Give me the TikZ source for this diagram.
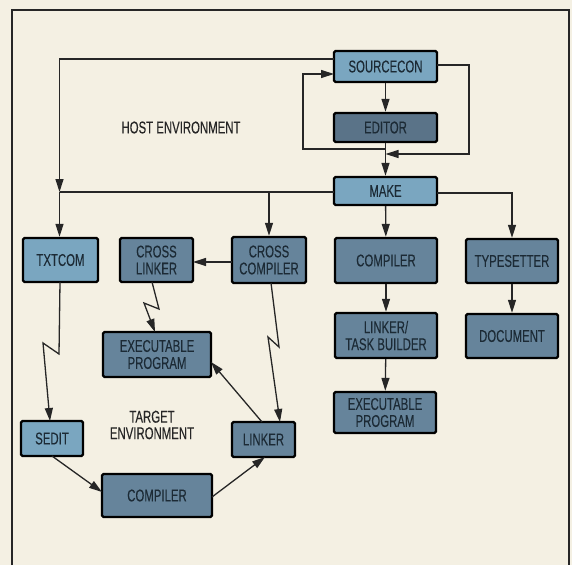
\documentclass[tikz,border=0pt]{standalone}
\usepackage{fontspec}
\newfontfamily\condf[FakeStretch=0.67,FakeBold=0.15]{Liberation Sans}
\usetikzlibrary{arrows.meta}
\definecolor{paper}{HTML}{F4F0E3}
\definecolor{lightb}{HTML}{7AA6C0}
\definecolor{darkb}{HTML}{66849B}
\definecolor{darkerb}{HTML}{5A7388}
\definecolor{inkc}{HTML}{1C2A35}
\definecolor{linec}{HTML}{262626}
\tikzset{
  bx/.style={draw=black, line width=2.4pt, rounded corners=1.5pt, inner sep=0pt,
    font=\condf\fontsize{17}{17}\selectfont, text=inkc, align=center},
  lightbox/.style={bx, fill=lightb},
  darkbox/.style={bx, fill=darkb},
  darkerbox/.style={bx, fill=darkerb},
  conn/.style={draw=linec, line width=1.3pt},
  arr/.style={conn, -{Triangle[length=13pt,width=8pt]}},
  lbl/.style={font=\condf\fontsize{17}{16.5}\selectfont, text=linec, align=center, inner sep=0pt}
}
\begin{document}
\begin{tikzpicture}[x=1pt,y=-1pt]
\useasboundingbox (0,0) rectangle (572,565);
\fill[paper] (0,0) rectangle (572,565);
\draw[draw=linec, line width=2pt] (12,565) -- (12,10) -- (569,10) -- (569,565);

% host nodes
\node[lightbox, minimum width=103pt, minimum height=31pt] (src) at (385.5,66.5) {SOURCECON};
\node[darkerbox, minimum width=103pt, minimum height=29pt] (edt) at (385.5,127.5) {EDITOR};
\node[lightbox, minimum width=103pt, minimum height=28pt] (mk) at (385.5,191) {MAKE};
\node[lightbox, minimum width=75pt, minimum height=44pt] (txt) at (60.5,260) {TXTCOM};
\node[darkbox, minimum width=73pt, minimum height=44pt] (xl) at (156.5,260) {CROSS\\LINKER};
\node[darkbox, minimum width=74pt, minimum height=46pt] (xc) at (269,260) {CROSS\\COMPILER};
\node[darkbox, minimum width=102pt, minimum height=45pt] (cmp) at (386,260.5) {COMPILER};
\node[darkbox, minimum width=92pt, minimum height=44pt] (ts) at (512,261) {TYPESETTER};
\node[darkbox, minimum width=102pt, minimum height=45pt] (ltb) at (386,335.5) {LINKER/\\TASK BUILDER};
\node[darkbox, minimum width=92pt, minimum height=44pt] (doc) at (512,336) {DOCUMENT};
\node[darkbox, minimum width=102pt, minimum height=41pt] (exr) at (385,412.5) {EXECUTABLE\\PROGRAM};
\node[darkbox, minimum width=108pt, minimum height=45pt] (exl) at (157,354.5) {EXECUTABLE\\PROGRAM};
\node[lightbox, minimum width=62pt, minimum height=35pt] (sed) at (52,438.5) {SEDIT};
\node[darkbox, minimum width=63pt, minimum height=35pt] (lnk) at (263.5,439.5) {LINKER};
\node[darkbox, minimum width=110pt, minimum height=43pt] (cmb) at (157,495.5) {COMPILER};

\node[lbl] (host) at (181,127.5) {HOST ENVIRONMENT};
\node[lbl] (tgt) at (152,425) {TARGET\\ENVIRONMENT};

% coordinates
\coordinate (jl) at (385.5,149);
\coordinate (l1) at (303,149);
\coordinate (l2) at (303,74);
\coordinate (s74) at (334,74);
\coordinate (s65) at (437,65);
\coordinate (r1) at (469,65);
\coordinate (r2) at (469,154);
\coordinate (jr) at (385.5,154);
\coordinate (s59) at (334,59);
\coordinate (t1) at (59.5,59);
\coordinate (t2) at (59.5,192);
\coordinate (m192) at (334,192);
\coordinate (xcb) at (269,192);
\coordinate (m193) at (437,193);
\coordinate (tsb) at (512,193);
% zigzag points
\coordinate (za0) at (60,282);
\coordinate (za1) at (59,354);
\coordinate (za2) at (43,343);
\coordinate (za3) at (50,421);
\coordinate (zb0) at (152,282);
\coordinate (zb1) at (159,309);
\coordinate (zb2) at (144,303);
\coordinate (zb3) at (155,332);
\coordinate (zc0) at (271,283);
\coordinate (zc1) at (279,347);
\coordinate (zc2) at (268,337);
\coordinate (zc3) at (280,422);
\coordinate (se1) at (52,456);
\coordinate (cb1) at (102,492);
\coordinate (cb2) at (212,497);
\coordinate (lk1) at (265,457);
\coordinate (lk2) at (262,422);
\coordinate (ex1) at (211,362);
\coordinate (xcw) at (232,262);
\coordinate (xle) at (193,262);

% host connectors
\draw[arr] (src) -- (edt);
\draw[arr] (edt) -- (mk);
\draw[arr] (jl) -- (l1) -- (l2) -- (s74);
\draw[arr] (s65) -- (r1) -- (r2) -- (jr);
\draw[arr] (s59) -- (t1) -- (t2);
\draw[conn] (m192) -- (t2);
\draw[arr] (t2) -- (txt.north -| t2);
\draw[arr] (xcb) -- (xc);
\draw[arr] (mk) -- (cmp);
\draw[arr] (m193) -- (tsb) -- (ts);
\draw[arr] (cmp) -- (ltb);
\draw[arr] (ltb) -- (exr);
\draw[arr] (ts) -- (doc);
\draw[arr] (xcw) -- (xle);

% zigzags
\draw[arr] (za0) -- (za1) -- (za2) -- (za3);
\draw[arr] (zb0) -- (zb1) -- (zb2) -- (zb3);
\draw[arr] (zc0) -- (zc1) -- (zc2) -- (zc3);

% target connectors
\draw[arr] (se1) -- (cb1);
\draw[arr] (cb2) -- (lk1);
\draw[arr] (lk2) -- (ex1);
\end{tikzpicture}
\end{document}
